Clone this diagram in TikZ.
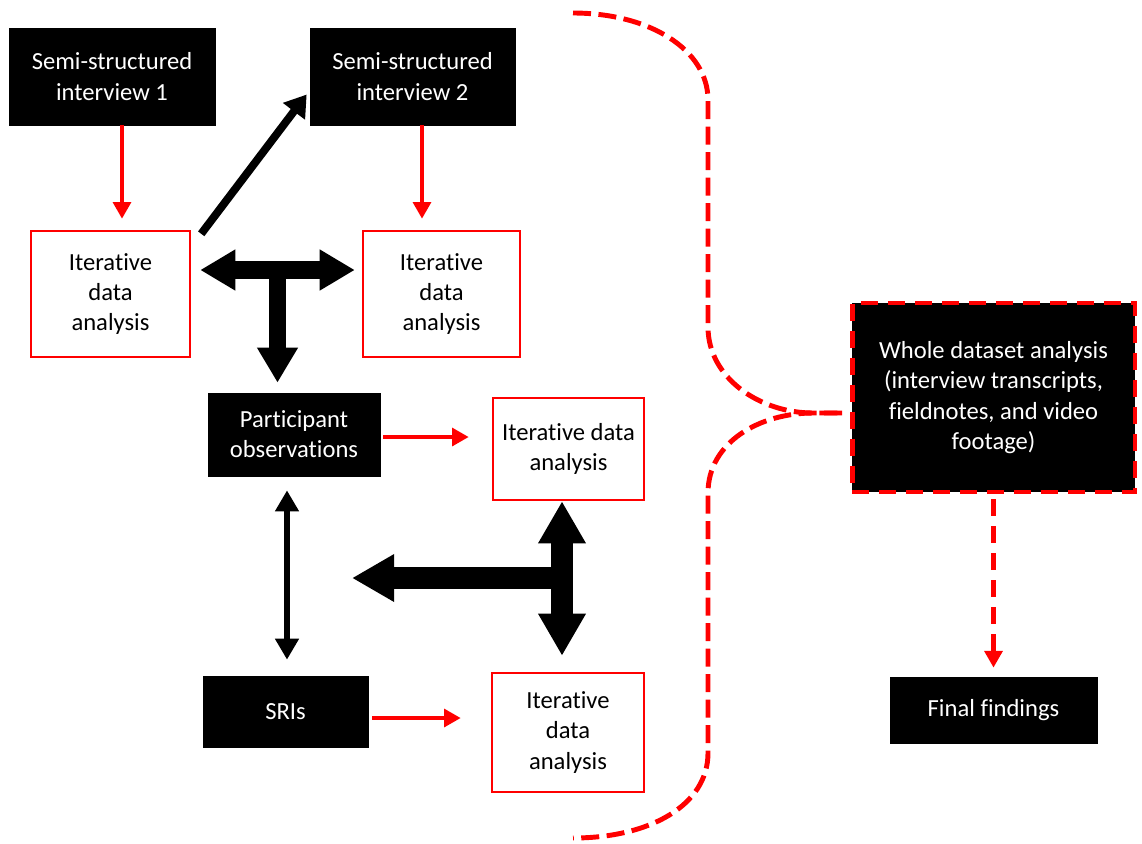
\documentclass[tikz,border=0pt]{standalone}
\usepackage{fontspec}
\setmainfont{Carlito}[Ligatures=NoCommon]
\usetikzlibrary{arrows.meta,calc}

\tikzset{
  txt/.style={align=center,inner sep=0pt,font=\fontsize{14}{17.2}\selectfont},
  blackbox/.style={txt,draw=black,fill=black,text=white},
  redbox/.style={txt,draw=red,line width=1.4pt,fill=white},
  wholebox/.style={txt,draw=red,fill=black,text=white,line width=2.8pt,dash pattern=on 0.34cm off 0.2cm},
  redarrow/.style={draw=red,line width=2.8pt,-{Triangle[width=10pt,length=9.5pt]}},
  diagarrow/.style={line width=4.5pt,-{Triangle[width=15pt,length=12pt]}},
  thinarrow/.style={line width=3.4pt,{Triangle[width=13pt,length=12pt]}-{Triangle[width=13pt,length=12pt]}},
  tarrowa/.style={line width=10.2pt,{Triangle[width=22pt,length=20pt]}-{Triangle[width=22pt,length=20pt]}},
  tstema/.style={line width=10.2pt,-{Triangle[width=22pt,length=20pt]}},
  tarrowb/.style={line width=12.5pt,{Triangle[width=25.5pt,length=24pt]}-{Triangle[width=25.5pt,length=24pt]}},
  tstemb/.style={line width=12.5pt,-{Triangle[width=25.5pt,length=24pt]}},
  bracedash/.style={draw=red,line width=2.8pt,dash pattern=on 0.36cm off 0.15cm}
}

\begin{document}
\begin{tikzpicture}[x=0.02cm,y=-0.02cm]
\useasboundingbox (0,0) rectangle (1142,843);

\node[blackbox,minimum width=4.12cm,minimum height=1.94cm] (ssi1) at (112,76.5) {Semi-structured\\interview 1};
\node[blackbox,minimum width=4.1cm,minimum height=1.94cm] (ssi2) at (412.5,76.5) {Semi-structured\\interview 2};
\node[redbox,minimum width=3.18cm,minimum height=2.52cm] (ida1) at (110.5,294) {Iterative\\data\\analysis};
\node[redbox,minimum width=3.14cm,minimum height=2.52cm] (ida2) at (441.5,294) {Iterative\\data\\analysis};
\node[blackbox,minimum width=3.44cm,minimum height=1.66cm] (po) at (294,434.5) {Participant\\observations};
\node[redbox,minimum width=3.02cm,minimum height=2.04cm] (ida3) at (568.5,449) {Iterative data\\analysis};
\node[blackbox,minimum width=3.3cm,minimum height=1.42cm] (sri) at (285.5,711.5) {SRIs};
\node[redbox,minimum width=3.04cm,minimum height=2.38cm] (ida4) at (568,732.5) {Iterative\\data\\analysis};
\node[wholebox,minimum width=5.66cm,minimum height=3.78cm] (whole) at (993.5,397.5) {Whole dataset analysis\\(interview transcripts,\\fieldnotes, and video\\footage)};
\node[blackbox,minimum width=4.14cm,minimum height=1.32cm] (final) at (993.5,710) {Final findings};

\coordinate (a1) at ($(ssi1.south)+(10,0)$);
\coordinate (a2) at ($(ssi2.south)+(9.5,0)$);
\coordinate (a3) at ($(po.east)+(3,2.5)$);
\coordinate (a4) at ($(sri.east)+(4,6.5)$);
\coordinate (a5) at ($(po.south)+(-7,0)$);
\coordinate (t1) at (277.5,270);
\coordinate (t2) at (562,578);
\coordinate (t2end) at (352,578);
\coordinate (tip) at (842,413);

\draw[redarrow,shorten >=0.22cm] (a1) -- (a1 |- ida1.north);
\draw[redarrow,shorten >=0.22cm] (a2) -- (a2 |- ida2.north);
\draw[redarrow,shorten >=0.46cm] (a3) -- (a3 -| ida3.west);
\draw[redarrow,shorten >=0.6cm] (a4) -- (a4 -| ida4.west);
\draw[diagarrow] ($(ida1.north east)+(10,4)$) -- ($(ssi2.west)+(-3,18)$);
\draw[thinarrow,shorten <=0.28cm,shorten >=0.32cm] (a5) -- (a5 |- sri.north);

\draw[tarrowa,shorten <=0.18cm,shorten >=0.14cm] (ida1.east |- t1) -- (ida2.west |- t1);
\draw[tstema,shorten >=0.2cm] (t1) -- (t1 |- po.north);
\draw[tarrowb,shorten >=0.32cm] (t2 |- ida3.south) -- (t2 |- ida4.north);
\draw[tstemb] (t2) -- (t2end);

\draw[redarrow,dash pattern=on 0.34cm off 0.2cm,shorten <=0.1cm,shorten >=0.18cm] (whole.south) -- (final.north);

\draw[bracedash] (573,13) .. controls (650,13) and (708,50) .. (708,100) -- (708,327) .. controls (708,378) and (760,413) .. (813,413) -- (tip);
\draw[bracedash] (tip) -- (813,413) .. controls (760,413) and (708,442) .. (708,493) -- (708,753) .. controls (708,805) and (650,838) .. (573,838);
\end{tikzpicture}
\end{document}
